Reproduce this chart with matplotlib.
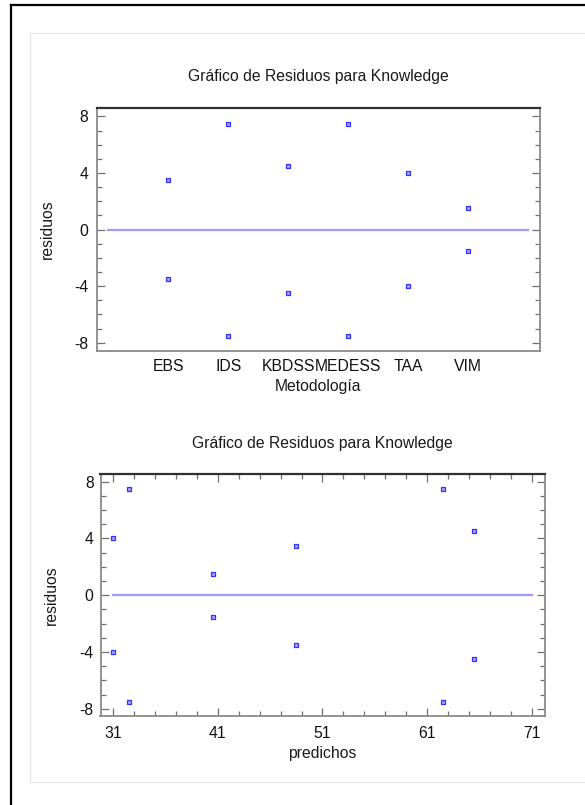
import matplotlib
matplotlib.use("Agg")
import matplotlib.pyplot as plt
from matplotlib.lines import Line2D
from matplotlib.patches import Rectangle
from matplotlib.ticker import MultipleLocator, FixedLocator

plt.rcParams['font.family'] = ['Liberation Sans', 'DejaVu Sans']
plt.rcParams['axes.unicode_minus'] = False

# ---- data ----
categories = ["EBS", "IDS", "KBDSS", "MEDESS", "TAA", "VIM"]
resid_pos = [3.5, 7.5, 4.5, 7.5, 4.0, 1.5]
resid_neg = [-3.5, -7.5, -4.5, -7.5, -4.0, -1.5]
predicted = [48.5, 32.5, 65.5, 62.5, 31.0, 40.5]

title = "Gráfico de Residuos para Knowledge"
ylab = "residuos"
xlab_top = "Metodología"
xlab_bot = "predichos"
x_ticks_bot = [31, 41, 51, 61, 71]
y_ticks = [-8, -4, 0, 4, 8]

W, H = 585, 805
fig = plt.figure(figsize=(W / 100, H / 100), dpi=100)

def fx(px):
    return px / W

def fy(py):
    return 1 - py / H

# outer black frame (left and top) and inner light-gray box
fig.add_artist(Line2D([fx(11), fx(11)], [fy(5.5), 0], color='black', lw=1.6))
fig.add_artist(Line2D([fx(11), 1], [fy(5.5), fy(5.5)], color='black', lw=1.6))
fig.add_artist(Rectangle((fx(30), fy(782)), 1.2, fy(33) - fy(782),
                         fill=False, edgecolor='#e4e4e4', lw=0.8))

TXT = '#1a1a1a'
FS = 11.3
MARK = dict(marker='s', markersize=3.4, markerfacecolor='#a8a8ff',
            markeredgecolor='#3030ff', markeredgewidth=0.9, linestyle='none')
LINEC = '#9a9aff'

def style_axes(ax):
    for s in ['left', 'right', 'bottom']:
        ax.spines[s].set_color('#8a8a8a')
        ax.spines[s].set_linewidth(1.3)
    ax.spines['top'].set_color('#303030')
    ax.spines['top'].set_linewidth(1.6)
    ax.tick_params(which='both', direction='in', color='#707070', width=0.9,
                   labelcolor='#111111', labelsize=FS)
    ax.tick_params(which='major', length=6)
    ax.tick_params(which='minor', length=3.5)

# ---- top plot ----
ax1 = fig.add_axes([fx(96.5), fy(350.5), fx(540) - fx(96.5), fy(108) - fy(350.5)])
xs = list(range(1, len(categories) + 1))
ax1.plot([0, 7], [0, 0], color=LINEC, lw=1.6, zorder=1)
ax1.plot(xs, resid_pos, **MARK, zorder=3)
ax1.plot(xs, resid_neg, **MARK, zorder=3)
ax1.set_xlim(-0.2, 7.2)
ax1.set_ylim(-8.55, 8.6)
ax1.set_xticks(xs)
ax1.set_xticklabels(categories)
ax1.set_yticks(y_ticks)
ax1.yaxis.set_minor_locator(MultipleLocator(1))
style_axes(ax1)
ax1.tick_params(axis='x', which='both', length=0, pad=6)
ax1.tick_params(axis='y', which='both', left=True, right=True, pad=6)

fig.text(fx(318.5), fy(77), title, ha='center', va='center', fontsize=FS, color=TXT)
fig.text(fx(318), fy(387), xlab_top, ha='center', va='center', fontsize=FS, color=TXT)
fig.text(fx(47), fy(229), ylab, ha='center', va='center', rotation=90, fontsize=FS, color=TXT)

# ---- bottom plot ----
ax2 = fig.add_axes([fx(100.5), fy(716), fx(545) - fx(100.5), fy(474.5) - fy(716)])
ax2.plot([31, 71], [0, 0], color=LINEC, lw=1.6, zorder=1)
ax2.plot(predicted, resid_pos, **MARK, zorder=3)
ax2.plot(predicted, resid_neg, **MARK, zorder=3)
ax2.set_xlim(29.8, 72.25)
ax2.set_ylim(-8.5, 8.5)
ax2.set_xticks(x_ticks_bot)
ax2.xaxis.set_minor_locator(FixedLocator([v for v in range(31, 72, 2)]))
ax2.set_yticks(y_ticks)
ax2.yaxis.set_minor_locator(MultipleLocator(1))
style_axes(ax2)
ax2.tick_params(axis='x', which='both', top=True, bottom=True, pad=7)
ax2.tick_params(axis='y', which='both', left=True, right=True, pad=5)

fig.text(fx(322.5), fy(443), title, ha='center', va='center', fontsize=FS, color=TXT)
fig.text(fx(322), fy(753), xlab_bot, ha='center', va='center', fontsize=FS, color=TXT)
fig.text(fx(51), fy(595), ylab, ha='center', va='center', rotation=90, fontsize=FS, color=TXT)

fig.savefig("out.png", dpi=100, facecolor='white')
